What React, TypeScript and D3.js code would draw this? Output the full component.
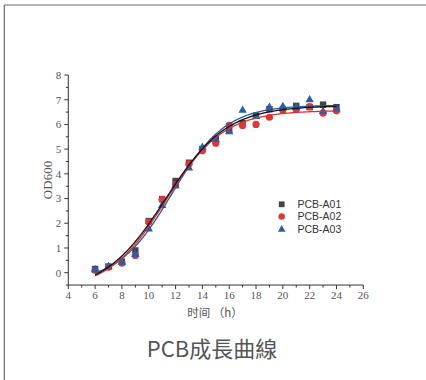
import React from "react";
import * as d3 from "d3";

const hours = [6, 7, 8, 9, 10, 11, 12, 13, 14, 15, 16, 17, 18, 19, 20, 21, 22, 23, 24];
const pcbA01 = [0.15, 0.25, 0.45, 0.9, 2.09, 2.98, 3.71, 4.45, 5.0, 5.4, 5.75, 6.05, 6.36, 6.62, 6.6, 6.75, 6.7, 6.8, 6.7];
const pcbA02 = [0.1, 0.22, 0.39, 0.7, 2.05, 2.97, 3.55, 4.4, 4.93, 5.24, 5.96, 5.96, 6.0, 6.29, 6.6, 6.6, 6.72, 6.46, 6.55];
const pcbA03 = [0.15, 0.27, 0.45, 0.76, 1.79, 2.75, 3.54, 4.26, 5.1, 5.42, 5.73, 6.6, 6.35, 6.72, 6.75, 6.7, 7.02, 6.55, 6.65];
const seriesNames = ["PCB-A01", "PCB-A02", "PCB-A03"];
const xTicks = [4, 6, 8, 10, 12, 14, 16, 18, 20, 22, 24, 26];
const yTicks = [0, 1, 2, 3, 4, 5, 6, 7, 8];

const colors = ["#444444", "#d63a3a", "#2a5ca8"];
const lineColors = ["#111111", "#e0302b", "#2b5aa0"];

type P = number[];
function boltz(p: P, x: number) {
  return p[1] + (p[0] - p[1]) / (1 + Math.exp((x - p[2]) / p[3]));
}
function nelderMead(f: (p: P) => number, start: P, step: P, iters: number): P {
  const n = start.length;
  let s: P[] = [start.slice()];
  for (let i = 0; i < n; i++) {
    const p = start.slice();
    p[i] += step[i];
    s.push(p);
  }
  let v = s.map(f);
  for (let it = 0; it < iters; it++) {
    const idx = d3.range(n + 1).sort((a, b) => v[a] - v[b]);
    s = idx.map((i) => s[i]);
    v = idx.map((i) => v[i]);
    const c = d3.range(n).map((j) => d3.mean(s.slice(0, n), (q) => q[j]) as number);
    const w = s[n];
    const xr = c.map((cj, j) => cj + (cj - w[j]));
    const fr = f(xr);
    if (fr < v[0]) {
      const xe = c.map((cj, j) => cj + 2 * (cj - w[j]));
      const fe = f(xe);
      if (fe < fr) { s[n] = xe; v[n] = fe; } else { s[n] = xr; v[n] = fr; }
    } else if (fr < v[n - 1]) {
      s[n] = xr; v[n] = fr;
    } else {
      const xc = c.map((cj, j) => cj + 0.5 * (w[j] - cj));
      const fc = f(xc);
      if (fc < v[n]) { s[n] = xc; v[n] = fc; } else {
        for (let i = 1; i <= n; i++) {
          s[i] = s[i].map((q, j) => s[0][j] + 0.5 * (q - s[0][j]));
          v[i] = f(s[i]);
        }
      }
    }
  }
  const best = d3.minIndex(v);
  return s[best];
}
function fit(ys: number[]): P {
  const sse = (p: P) => {
    if (Math.abs(p[3]) < 0.05) return 1e9;
    return d3.sum(hours, (x, i) => (boltz(p, x) - ys[i]) ** 2);
  };
  return nelderMead(sse, [0, d3.max(ys) as number, 12, 2], [0.5, 0.5, 1, 0.5], 3000);
}

export default function App() {
  const W = 426, H = 380;
  const x = d3.scaleLinear().domain([4, 26]).range([68.3, 363.3]);
  const y = d3.scaleLinear().domain([0, 8]).range([272.7, 75]);
  const data = [pcbA01, pcbA02, pcbA03];
  const fits = data.map(fit);
  const xs = d3.range(6, 24.001, 0.1);
  const line = d3.line<number>();
  const tickColor = "#333";
  const labelColor = "#555";
  const serif = "'Liberation Serif', 'DejaVu Serif', serif";
  const yMinorTicks = d3.range(-0.5, 8.01, 0.5).filter((t) => !Number.isInteger(t));
  const xMinorTicks = d3.range(5, 26, 2);

  const marker = (k: number, cx: number, cy: number, key: string, scale = 1) => {
    if (k === 0) return <rect key={key} x={cx - 3.2 * scale} y={cy - 3.2 * scale} width={6.4 * scale} height={6.4 * scale} fill={colors[0]} />;
    if (k === 1) return <circle key={key} cx={cx} cy={cy} r={3.6 * scale} fill={colors[1]} />;
    const s = 4.2 * scale;
    return <path key={key} d={`M${cx},${cy - s}L${cx + s},${cy + s * 0.75}L${cx - s},${cy + s * 0.75}Z`} fill={colors[2]} />;
  };

  return (
    <svg width={W} height={H} style={{ position: "absolute", left: 0, top: 0, background: "#fff" }}>
      <line x1={4.3} y1={5} x2={426} y2={5} stroke="#666" strokeWidth={1.2} />
      <line x1={4.3} y1={5} x2={4.3} y2={380} stroke="#666" strokeWidth={1.2} />

      {/* axes */}
      <line x1={x(4)} y1={y(-0.5)} x2={x(26)} y2={y(-0.5)} stroke={tickColor} strokeWidth={1} />
      <line x1={x(4)} y1={y(-0.5)} x2={x(4)} y2={y(8)} stroke={tickColor} strokeWidth={1} />
      {yTicks.map((t) => (
        <g key={"yt" + t}>
          <line x1={x(4) - 4} x2={x(4)} y1={y(t)} y2={y(t)} stroke={tickColor} />
          <text x={x(4) - 7} y={y(t)} dy="0.35em" textAnchor="end" fontFamily={serif} fontSize={11} fill={labelColor}>{t}</text>
        </g>
      ))}
      {yMinorTicks.map((t) => (
        <line key={"ym" + t} x1={x(4) - 2.5} x2={x(4)} y1={y(t)} y2={y(t)} stroke={tickColor} />
      ))}
      {xTicks.map((t) => (
        <g key={"xt" + t}>
          <line x1={x(t)} x2={x(t)} y1={y(-0.5)} y2={y(-0.5) + 4} stroke={tickColor} />
          <text x={x(t)} y={y(-0.5) + 14} textAnchor="middle" fontFamily={serif} fontSize={11} fill={labelColor}>{t}</text>
        </g>
      ))}
      {xMinorTicks.map((t) => (
        <line key={"xm" + t} x1={x(t)} x2={x(t)} y1={y(-0.5)} y2={y(-0.5) + 2.5} stroke={tickColor} />
      ))}
      <text x={215} y={317} textAnchor="middle" fontFamily="'Noto Sans CJK SC', sans-serif" fontSize={11.5} fill={labelColor}>时间 （h）</text>
      <text transform={`translate(52,${180}) rotate(-90)`} textAnchor="middle" fontFamily={serif} fontSize={13} fill={labelColor}>OD600</text>

      {/* points */}
      {data.map((ys, k) => (
        <g key={"s" + k}>
          {hours.map((h, i) => marker(k, x(h), y(ys[i]), `m${k}-${i}`))}
        </g>
      ))}
      {/* fitted curves */}
      {[2, 1, 0].map((k) => (
        <path key={"c" + k} d={line(xs.map((v) => [x(v), y(boltz(fits[k], v))]))!} fill="none" stroke={lineColors[k]} strokeWidth={1.3} />
      ))}

      {/* legend */}
      {seriesNames.map((nm, k) => (
        <g key={"lg" + k}>
          {marker(k, 281.7, 204.3 + k * 12.3, "lm" + k, 0.9)}
          <text x={297.5} y={204.3 + k * 12.3} dy="0.35em" fontFamily="'Liberation Sans', Arial, sans-serif" fontSize={10.5} fill="#333">{nm}</text>
        </g>
      ))}

      <text x={212} y={357} textAnchor="middle" fontFamily="'Noto Sans CJK TC', 'Noto Sans', sans-serif" fontSize={22} fill="#555">PCB成長曲線</text>
    </svg>
  );
}
